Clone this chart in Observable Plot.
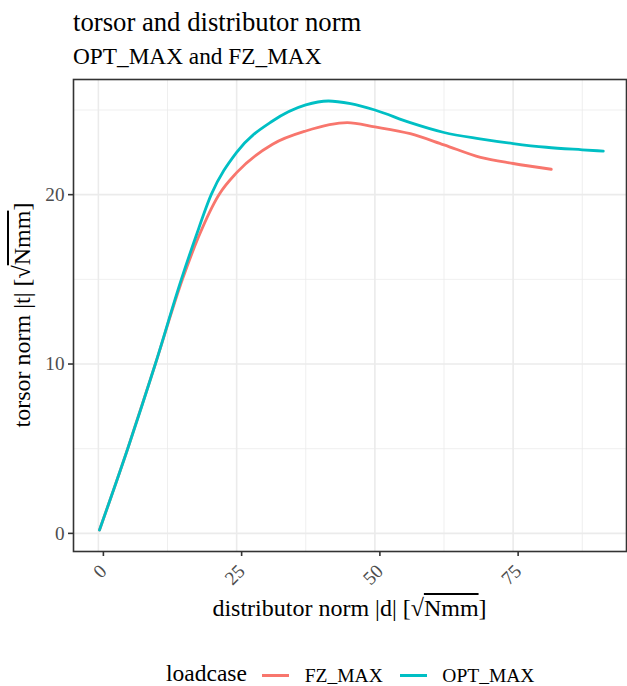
<!DOCTYPE html>
<html><head><meta charset="utf-8">
<script src="https://cdn.jsdelivr.net/npm/d3@7"></script>
<script src="https://cdn.jsdelivr.net/npm/@observablehq/plot@0.6"></script>
<style>
body{margin:0;background:#fff;font-family:"Liberation Serif","Times New Roman",serif;}
#wrap{position:relative;width:627px;height:686px;overflow:hidden;background:#fff;}
.abs{position:absolute;white-space:nowrap;line-height:1;color:#000;font-family:"Liberation Serif","Times New Roman",serif;}
.ov{text-decoration:overline;}
#chart{position:absolute;left:0;top:70px;}
</style></head><body><div id="wrap">
<div class="abs" style="left:73px;top:9px;font-size:26.7px">torsor and distributor norm</div>
<div class="abs" style="left:73px;top:45px;font-size:23.3px">OPT_MAX and FZ_MAX</div>
<div class="abs" style="left:349.5px;top:596px;font-size:24px;transform:translateX(-50%)">distributor norm |d| [√<span class="ov">Nmm</span>]</div>
<div class="abs" style="left:22px;top:315px;font-size:24px;transform:translate(-50%,-50%) rotate(-90deg)">torsor norm |t| [√<span class="ov">Nmm</span>]</div>
<div id="chart"></div>
</div>
<script>
const loadcases = ["FZ_MAX", "OPT_MAX"];
const colors = ["#F8766D", "#00BFC4"];

const xFz = [0.2, 5.3, 10.3, 15.2, 18.1, 21.8, 25, 31.5, 37.5, 45, 50, 56.4, 62.5, 69.1, 75, 81.9];
const yFz = [0.2, 5.0, 10.0, 15.0, 17.5, 20.0, 21.3, 22.98, 23.76, 24.25, 24.0, 23.6, 22.94, 22.2, 21.84, 21.5];

const xOpt = [0.2, 5.3, 10.3, 15.0, 17.6, 20.4, 25, 31.5, 37.5, 41.6, 45.6, 50, 56.4, 62.5, 69, 75, 81, 87.5, 91.3];
const yOpt = [0.2, 5.0, 10.0, 15.0, 17.5, 20.0, 22.5, 24.35, 25.3, 25.53, 25.37, 25.0, 24.25, 23.67, 23.3, 23.02, 22.8, 22.65, 22.57];

const xTicks = [0, 25, 50, 75];
const xMinor = [12.5, 37.5, 62.5, 87.5];
const yTicks = [0, 10, 20];
const yMinor = [5, 15, 25];

const data = [
  ...xFz.map((x, i) => ({loadcase: "FZ_MAX", x, y: yFz[i]})),
  ...xOpt.map((x, i) => ({loadcase: "OPT_MAX", x, y: yOpt[i]}))
];

const chart = Plot.plot({
  width: 627, height: 580,
  marginTop: 9, marginBottom: 99, marginLeft: 73, marginRight: 1,
  style: {fontFamily: "'Liberation Serif', 'Times New Roman', serif", fontSize: "19.2px", background: "transparent", overflow: "visible"},
  x: {domain: [-4.5, 95.5], label: null},
  y: {domain: [-1.07, 26.8], label: null},
  color: {domain: loadcases, range: colors},
  marks: [
    Plot.gridX(xMinor, {stroke: "#ebebeb", strokeOpacity: 1, strokeWidth: 0.8}),
    Plot.gridY(yMinor, {stroke: "#ebebeb", strokeOpacity: 1, strokeWidth: 0.8}),
    Plot.gridX(xTicks, {stroke: "#ebebeb", strokeOpacity: 1, strokeWidth: 1.6}),
    Plot.gridY(yTicks, {stroke: "#ebebeb", strokeOpacity: 1, strokeWidth: 1.6}),
    Plot.line(data, {x: "x", y: "y", z: "loadcase", stroke: "loadcase", curve: "monotone-x", strokeWidth: 2.8}),
    Plot.frame({stroke: "#333333", strokeWidth: 1.6}),
    Plot.axisX(xTicks, {tickSize: 5, tickPadding: 11.5, dx: 5, tickRotate: -45, textAnchor: "end", lineAnchor: "middle", stroke: "#333333", strokeWidth: 1.6, fill: "#4d4d4d", label: null}),
    Plot.axisY(yTicks, {tickSize: 5, tickPadding: 4, stroke: "#333333", strokeWidth: 1.6, fill: "#4d4d4d", label: null})
  ]
});
document.getElementById("chart").append(chart);

// legend (HTML), entries built from loadcases/colors
const wrap = document.getElementById("wrap");
let cx = 166;
const baseline = 682;
const lt = document.createElement("div");
lt.className = "abs";
lt.textContent = "loadcase";
lt.style.cssText = `left:${cx}px;top:${baseline - 0.8375 * 23.5}px;font-size:23.5px;`;
wrap.append(lt);
cx += lt.getBoundingClientRect().width;
loadcases.forEach((lc, i) => {
  cx += i === 0 ? 15.5 : 17.3;
  const sw = document.createElement("div");
  sw.style.cssText = `position:absolute;left:${cx}px;top:673.5px;width:27px;height:3px;background:${colors[i]};`;
  wrap.append(sw);
  cx += 27 + 15.3;
  const lb = document.createElement("div");
  lb.className = "abs";
  lb.textContent = lc;
  lb.style.cssText = `left:${cx}px;top:${baseline - 0.8375 * 19.5}px;font-size:19.5px;`;
  wrap.append(lb);
  cx += lb.getBoundingClientRect().width;
});
</script>
</body></html>
